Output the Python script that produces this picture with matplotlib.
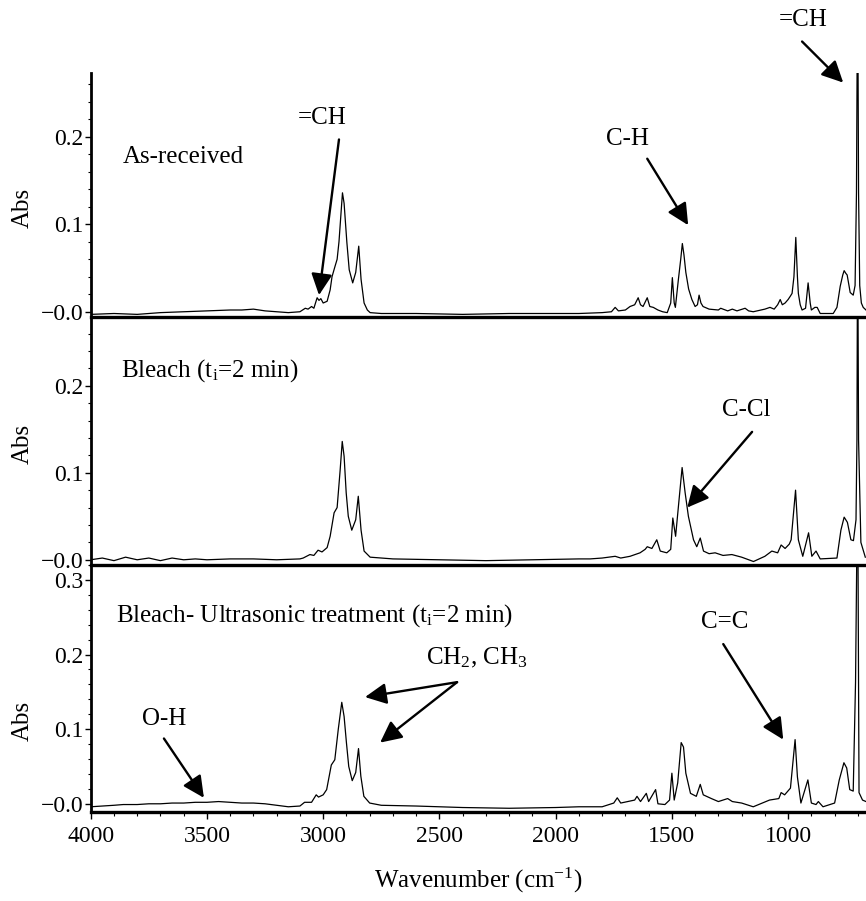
# plot.py
# FTIR spectra: as-received, bleach, bleach + ultrasonic

import numpy as np
import matplotlib
matplotlib.use("Agg")
import matplotlib.pyplot as plt
from matplotlib.ticker import MultipleLocator, FixedLocator, FixedFormatter

plt.rcParams['font.family'] = ['Liberation Serif', 'DejaVu Serif']
plt.rcParams['mathtext.fontset'] = 'custom'
plt.rcParams['mathtext.rm'] = 'Liberation Serif'
plt.rcParams['mathtext.it'] = 'Liberation Serif:italic'

# ---- data (wavenumber cm-1, absorbance) ----
wn_received = [4000, 3900, 3800, 3700, 3600, 3500, 3400, 3350, 3300, 3250, 3200, 3150, 3100,
               3077, 3065, 3050, 3040, 3026, 3018, 3010, 3000, 2983, 2970, 2962, 2949, 2940,
               2932, 2924, 2917, 2910, 2898, 2888, 2873, 2860, 2847, 2837, 2824, 2810, 2798,
               2750, 2600, 2400, 2200, 2000, 1900, 1800, 1760, 1744, 1730, 1700, 1680, 1660,
               1645, 1635, 1624, 1606, 1595, 1580, 1560, 1540, 1520, 1505, 1498, 1490, 1485,
               1472, 1462, 1455, 1448, 1440, 1428, 1414, 1400, 1390, 1383, 1375, 1366, 1340,
               1300, 1290, 1260, 1240, 1220, 1185, 1170, 1150, 1100, 1078, 1060, 1045, 1034,
               1025, 1013, 1000, 990, 983, 975, 967, 960, 956, 948, 940, 925, 914, 905, 900,
               885, 875, 862, 840, 806, 790, 776, 765, 759, 752, 746, 733, 720, 712, 706, 701,
               697, 692, 685, 677, 665]
abs_received = [-0.003, -0.002, -0.003, -0.001, 0.000, 0.001, 0.002, 0.002, 0.003, 0.001, 0.000,
                -0.001, 0.000, 0.004, 0.003, 0.006, 0.004, 0.016, 0.013, 0.015, 0.010, 0.012,
                0.025, 0.040, 0.052, 0.060, 0.080, 0.110, 0.136, 0.124, 0.079, 0.048, 0.033,
                0.045, 0.075, 0.037, 0.010, 0.002, -0.001, -0.002, -0.002, -0.003, -0.002,
                -0.002, -0.002, -0.001, 0.000, 0.005, 0.001, 0.002, 0.006, 0.008, 0.016, 0.008,
                0.006, 0.016, 0.006, 0.005, 0.002, 0.000, -0.001, 0.010, 0.039, 0.010, 0.005,
                0.037, 0.060, 0.078, 0.065, 0.045, 0.026, 0.014, 0.006, 0.008, 0.019, 0.010,
                0.006, 0.003, 0.002, 0.004, 0.001, 0.003, 0.001, 0.004, 0.001, 0.000, 0.003,
                0.005, 0.003, 0.008, 0.014, 0.008, 0.010, 0.014, 0.018, 0.021, 0.040, 0.085,
                0.040, 0.021, 0.008, 0.002, 0.004, 0.033, 0.010, 0.002, 0.005, 0.005, -0.002,
                -0.002, -0.002, 0.005, 0.029, 0.042, 0.047, 0.044, 0.042, 0.022, 0.019, 0.030,
                0.136, 0.400, 0.136, 0.030, 0.010, 0.005, 0.002]

wn_bleach = [4000, 3950, 3900, 3850, 3800, 3750, 3700, 3650, 3600, 3550, 3500, 3400, 3300, 3200,
             3100, 3086, 3057, 3040, 3022, 3005, 2983, 2970, 2953, 2940, 2927, 2918, 2910, 2901,
             2892, 2877, 2860, 2849, 2837, 2824, 2798, 2700, 2500, 2300, 2100, 1900, 1852, 1800,
             1744, 1720, 1680, 1637, 1615, 1606, 1586, 1565, 1550, 1522, 1505, 1496, 1484, 1472,
             1456, 1443, 1429, 1407, 1393, 1378, 1364, 1340, 1314, 1280, 1242, 1200, 1149, 1100,
             1070, 1045, 1030, 1013, 995, 987, 968, 956, 937, 912, 898, 880, 862, 790, 773, 759,
             745, 730, 719, 708, 704, 701, 697, 687, 668]
abs_bleach = [0.000, 0.002, -0.001, 0.003, 0.000, 0.002, -0.001, 0.002, 0.000, 0.001, 0.000,
              0.001, 0.001, 0.000, 0.001, 0.002, 0.006, 0.005, 0.011, 0.009, 0.014, 0.027, 0.054,
              0.060, 0.103, 0.136, 0.119, 0.077, 0.050, 0.034, 0.046, 0.073, 0.034, 0.010, 0.003,
              0.001, 0.000, -0.001, 0.000, 0.001, 0.001, 0.002, 0.004, 0.002, 0.004, 0.008, 0.012,
              0.015, 0.013, 0.023, 0.010, 0.008, 0.012, 0.048, 0.027, 0.061, 0.106, 0.077, 0.050,
              0.023, 0.015, 0.025, 0.010, 0.007, 0.008, 0.005, 0.006, 0.003, -0.002, 0.004, 0.010,
              0.008, 0.017, 0.013, 0.018, 0.023, 0.080, 0.023, 0.004, 0.031, 0.004, 0.010, 0.001,
              0.002, 0.034, 0.049, 0.043, 0.023, 0.022, 0.046, 0.138, 0.400, 0.138, 0.020, 0.003]

wn_ultra = [4000, 3950, 3900, 3860, 3800, 3750, 3700, 3650, 3600, 3550, 3500, 3450, 3400, 3350,
            3300, 3250, 3200, 3150, 3100, 3080, 3050, 3030, 3020, 3000, 2985, 2965, 2950, 2935,
            2920, 2910, 2900, 2890, 2875, 2860, 2848, 2838, 2825, 2800, 2750, 2600, 2400, 2200,
            2000, 1900, 1800, 1750, 1735, 1720, 1660, 1650, 1635, 1610, 1600, 1570, 1560, 1530,
            1510, 1500, 1490, 1475, 1460, 1450, 1440, 1420, 1395, 1378, 1365, 1330, 1300, 1260,
            1240, 1200, 1150, 1080, 1040, 1030, 1015, 990, 970, 960, 945, 915, 900, 880, 870,
            850, 800, 780, 760, 748, 735, 720, 710, 701, 695, 680, 665]
abs_ultra = [-0.004, -0.003, -0.002, -0.001, -0.001, 0.000, 0.000, 0.001, 0.001, 0.002, 0.002,
             0.003, 0.002, 0.001, 0.001, 0.000, -0.002, -0.004, -0.003, 0.002, 0.002, 0.012,
             0.009, 0.012, 0.019, 0.052, 0.059, 0.100, 0.136, 0.117, 0.082, 0.050, 0.031, 0.042,
             0.074, 0.037, 0.010, 0.001, -0.002, -0.003, -0.005, -0.006, -0.005, -0.004, -0.004,
             0.001, 0.008, 0.001, 0.005, 0.010, 0.003, 0.014, 0.003, 0.019, 0.000, -0.001, 0.005,
             0.041, 0.005, 0.028, 0.082, 0.076, 0.041, 0.014, 0.010, 0.026, 0.012, 0.007, 0.003,
             0.007, 0.003, 0.001, -0.004, 0.005, 0.007, 0.015, 0.012, 0.021, 0.086, 0.036, 0.001,
             0.032, 0.001, -0.001, 0.003, -0.004, 0.001, 0.032, 0.055, 0.048, 0.019, 0.017,
             0.163, 0.450, 0.015, 0.005, 0.003]

panel_titles = ["As-received", "Bleach (t$_\\mathrm{i}$=2 min)",
                "Bleach- Ultrasonic treatment (t$_\\mathrm{i}$=2 min)"]
yticks_top = [0.0, 0.1, 0.2]
yticklabels_top = ["\u22120.0", "0.1", "0.2"]
yticks_bot = [0.0, 0.1, 0.2, 0.3]
yticklabels_bot = ["\u22120.0", "0.1", "0.2", "0.3"]
xticks = [4000, 3500, 3000, 2500, 2000, 1500, 1000]

W, H = 866, 901
fig = plt.figure(figsize=(W / 100, H / 100), dpi=100)

# axes in pixel rows of the reference
left = 90.7 / W
rows = [(73, 317), (317, 565), (565, 812)]
ylims = [(-0.006, 0.273), (-0.006, 0.279), (-0.011, 0.32)]
label_y = [0.447, 0.49, 0.37]

arrow_kw = dict(arrowstyle="-|>,head_length=0.65,head_width=0.32", mutation_scale=20,
                lw=1.7, color="k", shrinkA=0, shrinkB=0)


def style_axes(ax, ylim, ticks, labels, ly, bottom):
    ax.set_xlim(4000, 665)
    ax.set_ylim(*ylim)
    ax.patch.set_visible(False)
    for s in ("top", "right"):
        ax.spines[s].set_visible(False)
    ax.spines["left"].set_linewidth(2.0)
    ax.spines["bottom"].set_linewidth(2.4)
    ax.yaxis.set_major_locator(FixedLocator(ticks))
    ax.yaxis.set_major_formatter(FixedFormatter(labels))
    ax.yaxis.set_minor_locator(MultipleLocator(0.02))
    ax.tick_params(axis="y", which="major", direction="out", length=4, width=1,
                   labelsize=17, pad=1)
    ax.tick_params(axis="y", which="minor", direction="out", length=2, width=0.8)
    if bottom:
        ax.xaxis.set_major_locator(FixedLocator(xticks))
        ax.xaxis.set_minor_locator(MultipleLocator(100))
        ax.tick_params(axis="x", which="major", direction="out", length=5, width=1,
                       labelsize=17, pad=5)
        ax.tick_params(axis="x", which="minor", direction="out", length=3, width=0.8)
        ax.set_xlabel("Wavenumber (cm$^{\\mathrm{-1}}$)", fontsize=18, labelpad=14)
    else:
        ax.set_xticks([])
    ax.set_ylabel("Abs", fontsize=18)
    ax.yaxis.set_label_coords(-0.073, ly)


axes = []
for i, (r0, r1) in enumerate(rows):
    ax = fig.add_axes([left, 1 - r1 / H, 1 - left, (r1 - r0) / H])
    axes.append(ax)

series = [(wn_received, abs_received), (wn_bleach, abs_bleach), (wn_ultra, abs_ultra)]
for i, ax in enumerate(axes):
    wn, ab = series[i]
    ax.plot(wn, ab, color="k", lw=0.9)
    if i < 2:
        style_axes(ax, ylims[i], yticks_top, yticklabels_top, label_y[i], False)
    else:
        style_axes(ax, ylims[i], yticks_bot, yticklabels_bot, label_y[i], True)

ax1, ax2, ax3 = axes
fs = 18

# As-received
ax1.text(3861, 0.177, panel_titles[0], fontsize=fs, ha="left", va="center")
ax1.text(3005, 0.222, "=CH", fontsize=fs, ha="center", va="center")
ax1.annotate("", xy=(3018, 0.019), xytext=(2932, 0.197), arrowprops=arrow_kw)
ax1.text(1692, 0.197, "C-H", fontsize=fs, ha="center", va="center")
ax1.annotate("", xy=(1430, 0.099), xytext=(1606, 0.175), arrowprops=arrow_kw)
ax1.text(935, 0.334, "=CH", fontsize=fs, ha="center", va="center", clip_on=False)
ax1.annotate("", xy=(763, 0.262), xytext=(940, 0.309), arrowprops=arrow_kw,
             annotation_clip=False)

# Bleach
ax2.text(3870, 0.218, panel_titles[1], fontsize=fs, ha="left", va="center")
ax2.text(1180, 0.172, "C-Cl", fontsize=fs, ha="center", va="center")
ax2.annotate("", xy=(1434, 0.060), xytext=(1155, 0.147), arrowprops=arrow_kw)

# Bleach + ultrasonic
ax3.text(3891, 0.252, panel_titles[2], fontsize=fs, ha="left", va="center")
ax3.text(3685, 0.113, "O-H", fontsize=fs, ha="center", va="center")
ax3.annotate("", xy=(3513, 0.008), xytext=(3685, 0.0875), arrowprops=arrow_kw)
ax3.text(2338, 0.196, "CH$_2$, CH$_3$", fontsize=fs, ha="center", va="center")
ax3.annotate("", xy=(2820, 0.143), xytext=(2424, 0.163), arrowprops=arrow_kw)
ax3.annotate("", xy=(2755, 0.082), xytext=(2424, 0.163), arrowprops=arrow_kw)
ax3.text(1271, 0.244, "C=C", fontsize=fs, ha="center", va="center")
ax3.annotate("", xy=(1021, 0.086), xytext=(1279, 0.214), arrowprops=arrow_kw)

fig.savefig("out.png", dpi=100)
